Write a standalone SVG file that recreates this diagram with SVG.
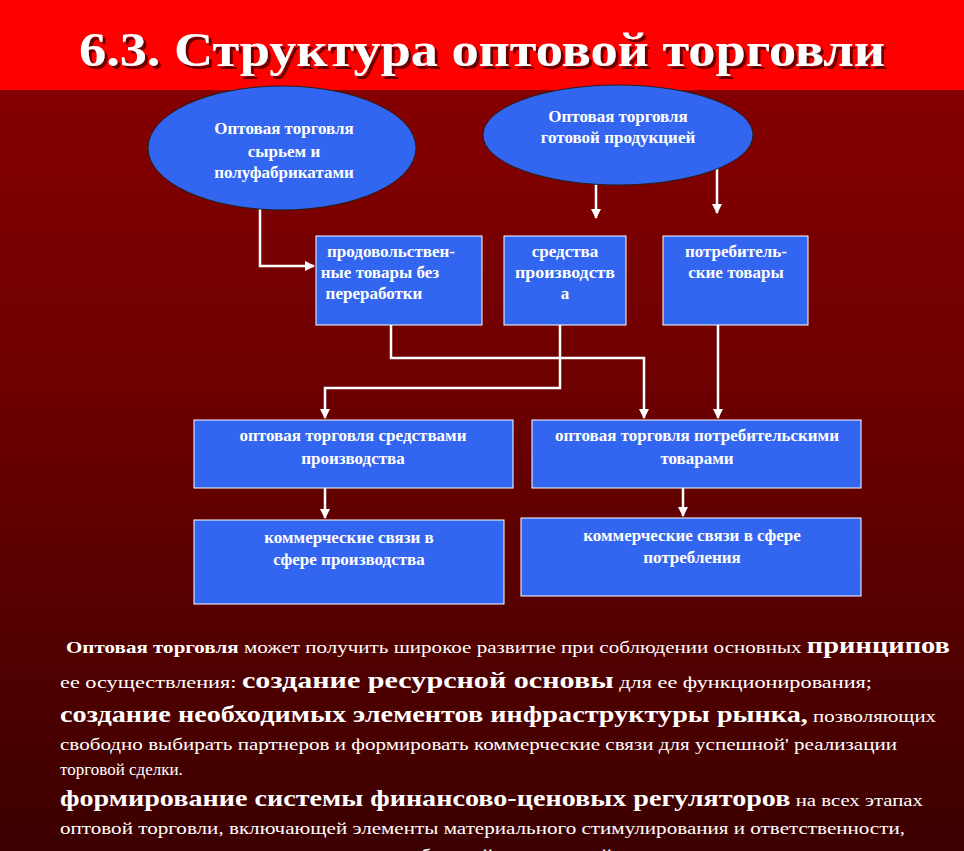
<svg xmlns="http://www.w3.org/2000/svg" width="964" height="851" viewBox="0 0 964 851">
<defs>
<linearGradient id="bg" x1="0" y1="0" x2="0" y2="1"><stop offset="0" stop-color="#8c0000"/><stop offset="0.5" stop-color="#6a0000"/><stop offset="1" stop-color="#3c0000"/></linearGradient>
<marker id="ar" viewBox="0 0 10 10" refX="9" refY="5" markerWidth="4" markerHeight="4" orient="auto"><path d="M0,0L10,5L0,10z" fill="#fff"/></marker>
<filter id="sh" x="-5%" y="-20%" width="110%" height="140%"><feDropShadow dx="3" dy="3" stdDeviation="0.5" flood-color="#400" flood-opacity="0.8"/></filter>
</defs>
<style>
text{font-family:"Liberation Serif","Times New Roman","DejaVu Serif",serif}
.n{fill:#3366f0;stroke:#fff;stroke-width:1}
.e{fill:#3366f0;stroke:#222;stroke-width:1}
.t{font-weight:bold;font-size:17px;fill:#fff;text-anchor:middle}
.c{fill:none;stroke:#fff;stroke-width:2.5;marker-end:url(#ar)}
.p{fill:#fff;font-size:17px}
.b{font-weight:bold;font-size:23px}
</style>
<rect width="964" height="851" fill="url(#bg)"/>
<rect width="964" height="90" fill="#ff0000"/>
<text x="482" y="66" text-anchor="middle" font-weight="bold" font-size="48" fill="#fff" filter="url(#sh)" textLength="806" lengthAdjust="spacingAndGlyphs">6.3. Структура оптовой торговли</text>
<g id="connectors">
<path class="c" d="M260,207V266H314"/>
<path class="c" d="M596,176V218"/>
<path class="c" d="M717,168V213"/>
<path class="c" d="M391,325V358H644V418"/>
<path class="c" d="M560,325V388H325V418"/>
<path class="c" d="M718,325V418"/>
<path class="c" d="M325,488V518"/>
<path class="c" d="M683,488V516"/>
</g>
<g id="e1"><ellipse class="e" cx="282" cy="148" rx="134" ry="62"/><text class="t" x="284" y="134">Оптовая торговля</text><text class="t" x="284" y="157">сырьем и</text><text class="t" x="284" y="178">полуфабрикатами</text></g>
<g id="e2"><ellipse class="e" cx="618" cy="135" rx="135" ry="50"/><text class="t" x="618" y="122">Оптовая торговля</text><text class="t" x="618" y="143">готовой продукцией</text></g>
<g id="a"><rect class="n" x="316" y="236" width="166" height="89"/><text class="t" x="391" y="257">продовольствен-</text><text class="t" x="380" y="278">ные товары без</text><text class="t" x="374" y="299">переработки</text></g>
<g id="b"><rect class="n" x="504" y="236" width="122" height="89"/><text class="t" x="565" y="257">средства</text><text class="t" x="565" y="278" textLength="100" lengthAdjust="spacingAndGlyphs">производств</text><text class="t" x="565" y="299">а</text></g>
<g id="c"><rect class="n" x="663" y="236" width="145" height="89"/><text class="t" x="736" y="257">потребитель-</text><text class="t" x="736" y="278">ские товары</text></g>
<g id="d"><rect class="n" x="194" y="420" width="319" height="68"/><text class="t" x="353" y="441">оптовая торговля средствами</text><text class="t" x="353" y="464">производства</text></g>
<g id="e"><rect class="n" x="532" y="420" width="329" height="68"/><text class="t" x="697" y="441">оптовая торговля потребительскими</text><text class="t" x="697" y="464">товарами</text></g>
<g id="f"><rect class="n" x="194" y="520" width="310" height="84"/><text class="t" x="349" y="543">коммерческие связи в</text><text class="t" x="349" y="565">сфере производства</text></g>
<g id="g"><rect class="n" x="521" y="518" width="340" height="78"/><text class="t" x="692" y="541">коммерческие связи в сфере</text><text class="t" x="692" y="563">потребления</text></g>
<g id="body">
<text class="p" x="66" y="653" textLength="884" lengthAdjust="spacingAndGlyphs"><tspan font-weight="bold">Оптовая торговля</tspan> может получить широкое развитие при соблюдении основных <tspan class="b">принципов</tspan></text>
<text class="p" x="60" y="688" textLength="812" lengthAdjust="spacingAndGlyphs">ее осуществления: <tspan class="b">создание ресурсной основы</tspan> для ее функционирования;</text>
<text class="p" x="60" y="722" textLength="876" lengthAdjust="spacingAndGlyphs"><tspan class="b">создание необходимых элементов инфраструктуры рынка,</tspan> позволяющих</text>
<text class="p" x="60" y="750" textLength="837" lengthAdjust="spacingAndGlyphs">свободно выбирать партнеров и формировать коммерческие связи для успешной' реализации</text>
<text class="p" x="60" y="775">торговой сделки.</text>
<text class="p" x="60" y="806" textLength="863" lengthAdjust="spacingAndGlyphs"><tspan class="b">формирование системы финансово-ценовых регуляторов</tspan> на всех этапах</text>
<text class="p" x="60" y="834" textLength="845" lengthAdjust="spacingAndGlyphs">оптовой торговли, включающей элементы материального стимулирования и ответственности,</text>
<text class="p" x="60" y="861" textLength="880" lengthAdjust="spacingAndGlyphs">направленные на удовлетворение потребностей покупателей и получение максимального дохода</text>
</g>
</svg>
